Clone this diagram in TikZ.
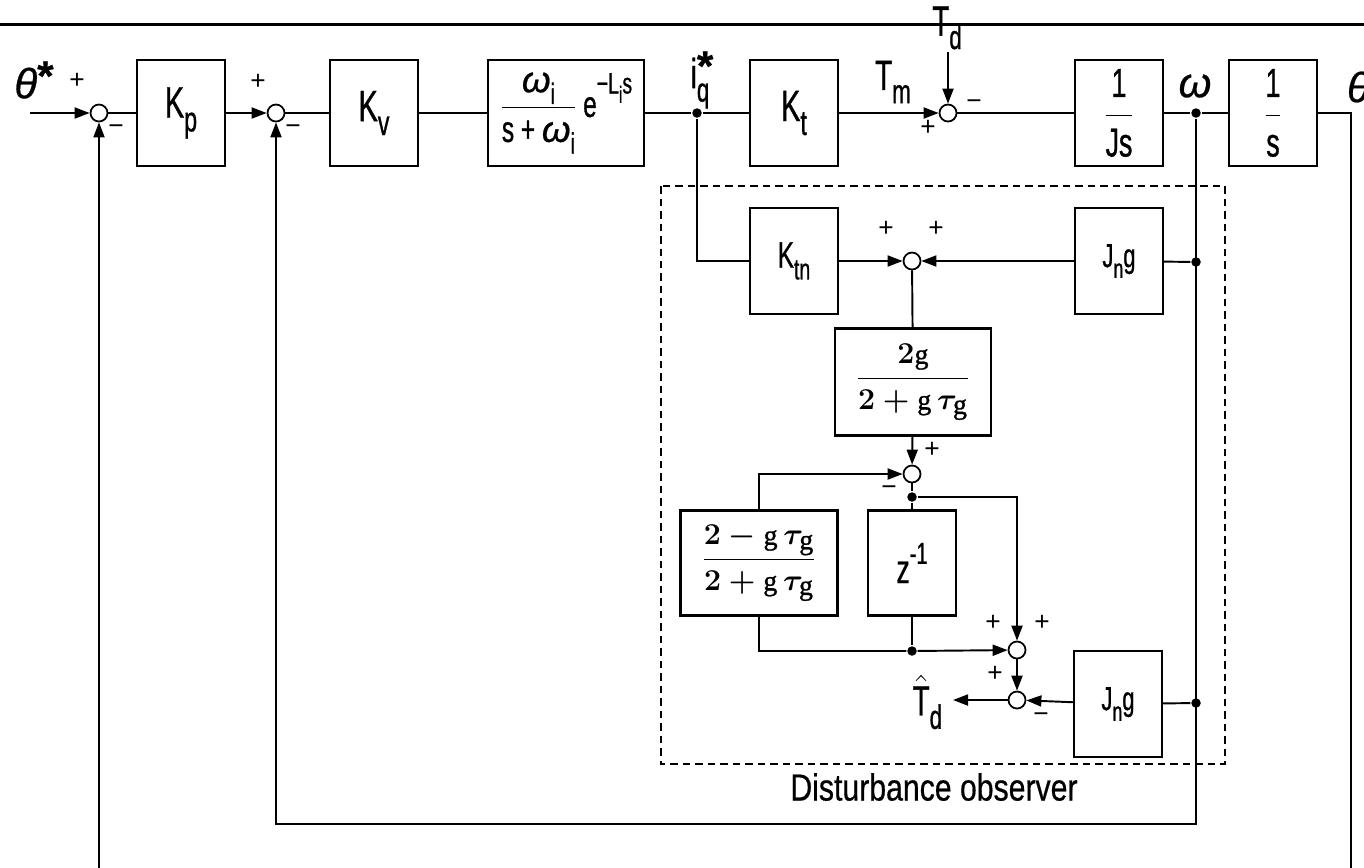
\documentclass[tikz,border=0pt]{standalone}
\usepackage{fontspec}
\setmainfont{Liberation Sans}
\newfontfamily\narrowsf[FakeStretch=0.66,FakeBold=0.8]{Liberation Sans}
\newfontfamily\captsf[FakeStretch=0.8,FakeBold=0.5]{Liberation Sans}
\newfontfamily\greeksf[FakeBold=0.6]{Liberation Sans}
\newfontfamily\serifg[FakeBold=1]{Liberation Serif}
\usetikzlibrary{arrows.meta}
\newcommand{\fsz}[1]{\fontsize{#1}{#1}\selectfont}
\newcommand{\lsub}[1]{\raisebox{-0.6ex}{\scalebox{0.8}{#1}}}
\newcommand{\lsup}[1]{\raisebox{0.9ex}{\scalebox{0.75}{#1}}}
\newcommand{\gr}[1]{{\greeksf\itshape #1}}
\newcommand{\sg}{\mbox{\serifg g}}
\newcommand{\bigast}{\raisebox{0.35ex}{{\greeksf\bfseries *}}}

\begin{document}
\begin{tikzpicture}[x=0.02cm,y=-0.02cm,line width=1.1pt,
  blk/.style={draw,line width=1.2pt,inner sep=0pt,minimum width=1.76cm,minimum height=2.12cm,font=\narrowsf\fsz{25}},
  sumj/.style={draw,circle,line width=1pt,minimum size=0.34cm,inner sep=0pt},
  dotj/.style={circle,fill=black,minimum size=0.19cm,inner sep=0pt},
  sgn/.style={font=\fsz{15},inner sep=0pt},
  lbl/.style={font=\narrowsf\fsz{24},inner sep=0pt},
  sig/.style={-{Triangle[length=0.3cm,width=0.22cm]}}]
  \useasboundingbox (0,0) rectangle (1364,867);
  \draw[line width=1.7pt] (0,24) -- (1364,24);
  \draw[line width=1pt,dash pattern=on 0.15cm off 0.1cm] (661,186) rectangle (1225,764);

  \node[sumj] (s1) at (99,113) {};
  \node[sumj] (s2) at (276,113) {};
  \node[sumj] (s3) at (948,113) {};
  \node[sumj] (s4) at (912,261) {};
  \node[sumj] (s5) at (912,474) {};
  \node[sumj] (s6) at (1017,650) {};
  \node[sumj] (s7) at (1017,700) {};

  \node[blk] (kp) at (181,113) {K\lsub{p}};
  \node[blk] (kv) at (374,113) {K\lsub{v}};
  \node[blk,minimum width=3.12cm,font=\narrowsf\fsz{21}] (lpf) at (566,113)
    {$\displaystyle\frac{\mbox{\gr{ω}\lsub{i}}}{\mbox{s + \gr{ω}\lsub{i}}}$\,e\raisebox{1.2ex}{\scalebox{0.8}{−L\lsub{i}s}}};
  \node[blk] (kt) at (794,113) {K\lsub{t}};
  \node[blk,font=\narrowsf\fsz{23}] (js) at (1119,113) {$\displaystyle\frac{\mbox{1}}{\mbox{Js}}$};
  \node[blk,font=\narrowsf\fsz{23}] (ig) at (1273,113) {$\displaystyle\frac{\mbox{1}}{\mbox{s}}$};

  \node[blk,font=\narrowsf\fsz{21}] (ktn) at (794,261) {K\lsub{tn}};
  \node[blk,font=\narrowsf\fsz{19}] (jn1) at (1119,261) {J\lsub{n}g};
  \node[blk,minimum width=3.12cm,minimum height=2.14cm,font=\fsz{16}\boldmath] (dg) at (913,382)
    {$\displaystyle\frac{2\sg}{2+\sg\,\tau_{\sg}}$};
  \node[blk,minimum width=3.14cm,minimum height=2.1cm,font=\fsz{16}\boldmath] (fb) at (759,563)
    {$\displaystyle\frac{2-\sg\,\tau_{\sg}}{2+\sg\,\tau_{\sg}}$};
  \node[blk,minimum height=2.1cm,font=\narrowsf\fsz{23}] (zd) at (912,563) {z\lsup{-1}};
  \node[blk,font=\narrowsf\fsz{19}] (jn2) at (1118,704) {J\lsub{n}g};

  \node[dotj] (iq) at (697,113) {};
  \node[dotj] (om) at (1196,113) {};
  \node[dotj] (om2) at (1196,262) {};
  \node[dotj] (om3) at (1196,703) {};
  \node[dotj] (d5) at (912,497) {};
  \node[dotj] (dz) at (912,651) {};

  \coordinate (in) at (30,113);
  \coordinate (td) at (948,52);
  \coordinate (thend) at (1351,880);
  \coordinate (fb1) at (99,880);
  \coordinate (fbc) at (1196,824);
  \coordinate (tdh) at (953,700);

  \draw[sig] (in) -- (s1);
  \draw (s1) -- (kp);
  \draw[sig] (kp) -- (s2);
  \draw (s2) -- (kv);
  \draw (kv) -- (lpf);
  \draw (lpf) -- (iq) -- (kt);
  \draw[sig] (kt) -- (s3);
  \draw (s3) -- (js);
  \draw (js) -- (om) -- (ig);
  \draw (ig.east) -| (thend);
  \draw[sig] (fb1) -- (s1);
  \draw[sig] (om) -- (fbc) -| (s2);
  \draw[sig] (td) -- (s3);

  \draw (iq) |- (ktn);
  \draw[sig] (ktn) -- (s4);
  \draw (om2) -- (jn1);
  \draw[sig] (jn1) -- (s4);
  \draw (s4) -- (dg);
  \draw[sig] (dg) -- (s5);
  \draw[sig] (fb.north) |- (s5);
  \draw (s5) -- (d5) -- (zd);
  \draw[sig] (d5) -| (s6);
  \draw (zd) -- (dz);
  \draw[sig] (fb.south) |- (dz) -- (s6);
  \draw[sig] (s6) -- (s7);
  \draw (om3) -- (jn2);
  \draw[sig] (jn2) -- (s7);
  \draw[sig] (s7) -- (tdh);

  \node[lbl] (lth) at (34,80) {\gr{θ}\bigast};
  \node[lbl] (liq) at (700,80) {i\rlap{\bigast}\lsub{q}};
  \node[lbl] (ltm) at (893,82) {T\lsub{m}};
  \node[lbl] (ltd) at (947,28) {T\lsub{d}};
  \node[lbl] (lom) at (1195,86) {\gr{ω}};
  \node[lbl,anchor=west] (lthe) at (1346,87) {\gr{θ}};
  \node[lbl,anchor=east] (ltdh) at (943,702) {$\hat{\mbox{T}}$\lsub{d}};
  \node[font=\captsf\fsz{21.5},inner sep=0pt] (dob) at (934,787) {Disturbance observer};

  \node[sgn] (p1) at (77,81) {+};
  \node[sgn] (m1) at (116,130) {−};
  \node[sgn] (p2) at (258,82) {+};
  \node[sgn] (m2) at (293,130) {−};
  \node[sgn] (p3) at (928,128) {+};
  \node[sgn] (m3) at (974,105) {−};
  \node[sgn] (p4) at (886,229) {+};
  \node[sgn] (p5) at (936,229) {+};
  \node[sgn] (p6) at (932,450) {+};
  \node[sgn] (m6) at (889,491) {−};
  \node[sgn] (p7) at (993,623) {+};
  \node[sgn] (p8) at (1042,623) {+};
  \node[sgn] (p9) at (995,674) {+};
  \node[sgn] (m9) at (1041,718) {−};
\end{tikzpicture}
\end{document}
